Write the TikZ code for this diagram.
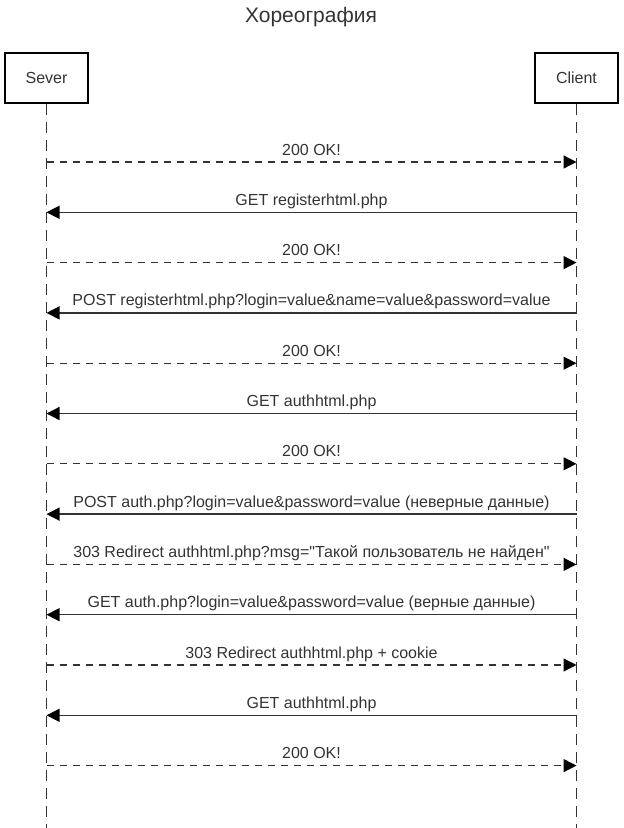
\documentclass[tikz,border=0pt]{standalone}
\usepackage{fontspec}
\setmainfont{Liberation Sans}[Ligatures=TeXOff]
\usetikzlibrary{arrows.meta}
\definecolor{ink}{HTML}{333333}
\begin{document}
\begin{tikzpicture}[x=1pt,y=-1pt,
  head/.style={draw=black,line width=2pt,minimum width=83pt,minimum height=50pt,inner sep=0pt,font=\fontsize{16}{19}\selectfont,text=ink},
  lifeline/.style={draw=ink,line width=1.3pt,dash pattern=on 11pt off 7pt},
  tip/.style={-{Triangle[length=13pt,width=13pt,color=black]}},
  reply/.style={draw=ink,line width=1.3pt,dash pattern=on 7pt off 6pt,tip},
  call/.style={draw=ink,line width=1.3pt,tip},
  lbl/.style={font=\fontsize{16}{19}\selectfont,text=ink,inner sep=0pt,anchor=base,yshift=7pt},
  ttl/.style={font=\fontsize{21}{25}\selectfont,text=ink,inner sep=0pt}]
\useasboundingbox (0,0) rectangle (624,828);
\node[ttl] (title) at (311,17) {Хореография};
\node[head] (sever) at (46.5,78) {Sever};
\node[head] (client) at (576.5,78) {Client};
\coordinate (send) at (46.5,828);
\coordinate (cend) at (576.5,828);
\draw[lifeline] (sever.south) -- (send);
\draw[lifeline] (client.south) -- (cend);
\foreach \i in {1,...,13}{
  \coordinate (s\i) at (46.5,{162+50.3*(\i-1)});
  \coordinate (c\i) at (576.5,{162+50.3*(\i-1)});
}
\draw[reply] (s1) -- node[lbl] {200 OK!} (c1);
\draw[call] (c2) -- node[lbl] {GET registerhtml.php} (s2);
\draw[reply] (s3) -- node[lbl] {200 OK!} (c3);
\draw[call] (c4) -- node[lbl] {POST registerhtml.php?login=value\&name=value\&password=value} (s4);
\draw[reply] (s5) -- node[lbl] {200 OK!} (c5);
\draw[call] (c6) -- node[lbl] {GET authhtml.php} (s6);
\draw[reply] (s7) -- node[lbl] {200 OK!} (c7);
\draw[call] (c8) -- node[lbl] {POST auth.php?login=value\&password=value (неверные данные)} (s8);
\draw[reply] (s9) -- node[lbl] {303 Redirect authhtml.php?msg="Такой пользователь не найден"} (c9);
\draw[call] (c10) -- node[lbl] {GET auth.php?login=value\&password=value (верные данные)} (s10);
\draw[reply] (s11) -- node[lbl] {303 Redirect authhtml.php + cookie} (c11);
\draw[call] (c12) -- node[lbl] {GET authhtml.php} (s12);
\draw[reply] (s13) -- node[lbl] {200 OK!} (c13);
\end{tikzpicture}
\end{document}
